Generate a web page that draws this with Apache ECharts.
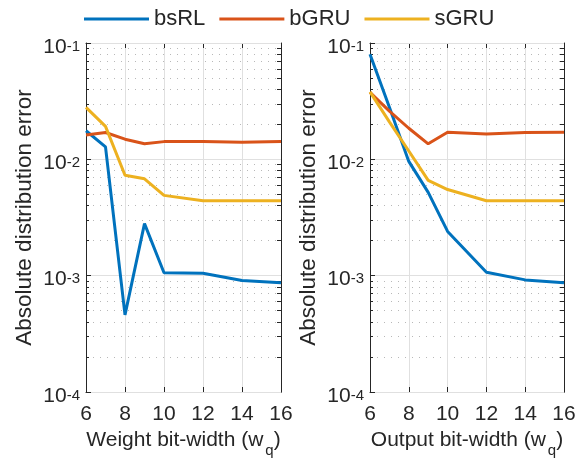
<!DOCTYPE html>
<html>
<head>
<meta charset="utf-8">
<script src="https://cdn.jsdelivr.net/npm/echarts@6/dist/echarts.min.js"></script>
<style>html,body{margin:0;padding:0;background:#fff}#c{width:585px;height:465px}</style>
</head>
<body>
<div id="c"></div>
<script>
const xBits = [6, 7, 8, 9, 10, 12, 14, 16];
const weight_bsRL = [0.0176, 0.0128, 0.00046, 0.0028, 0.00106, 0.00105, 0.00091, 0.00087];
const weight_bGRU = [0.0162, 0.0170, 0.0149, 0.0136, 0.0142, 0.0142, 0.0140, 0.0142];
const weight_sGRU = [0.028, 0.0192, 0.0073, 0.0068, 0.0049, 0.0044, 0.0044, 0.0044];
const output_bsRL = [0.080, 0.028, 0.0096, 0.0052, 0.0024, 0.00107, 0.00092, 0.00087];
const output_bGRU = [0.0376, 0.026, 0.0185, 0.0136, 0.0171, 0.0165, 0.0170, 0.0171];
const output_sGRU = [0.038, 0.021, 0.0118, 0.0066, 0.0055, 0.0044, 0.0044, 0.0044];
const seriesNames = ['bsRL', 'bGRU', 'sGRU'];
const xTicks = [6, 8, 10, 12, 14, 16];
const yMajor = [1e-4, 1e-3, 1e-2, 1e-1];
const yMinor = [];
for (let e = -4; e < -1; e++) for (let k = 2; k <= 9; k++) yMinor.push(k * Math.pow(10, e));
const xNames = ['Weight bit-width (w', 'Output bit-width (w'];
const yName = 'Absolute distribution error';

const colors = ['#0072BD', '#D95319', '#EDB120'];
const FONT = 'Liberation Sans';
const AX = '#262626';
const chart = echarts.init(document.getElementById('c'), null, {renderer: 'canvas'});

const grids = [
  {left: 86, top: 43, width: 195, height: 349},
  {left: 370, top: 43, width: 194, height: 349}
];

const minorExp = yMinor.map(v => Math.log10(v));
const allExp = yMajor.map(v => Math.log10(v)).concat(minorExp);

const xAxes = [], yAxes = [];
grids.forEach((g, gi) => {
  xAxes.push({
    type: 'value', gridIndex: gi, min: 6, max: 16, interval: 2, position: 'bottom',
    name: '{n|' + xNames[gi] + '}{q|q}{n|)}', nameLocation: 'middle', nameGap: 36,
    nameTextStyle: {rich: {
      n: {fontFamily: FONT, fontSize: 21, color: AX, lineHeight: 30, verticalAlign: 'top'},
      q: {fontFamily: FONT, fontSize: 15, color: AX, lineHeight: 15, verticalAlign: 'top', padding: [13, 0, 0, 2]}
    }},
    axisLine: {show: true, lineStyle: {color: AX, width: 1}},
    axisTick: {show: true, inside: true, length: 5, lineStyle: {color: AX}},
    axisLabel: {fontFamily: FONT, fontSize: 21, color: AX, margin: 12},
    splitLine: {show: true, lineStyle: {color: '#e0e0e0', width: 1}}
  });
  xAxes.push({
    type: 'value', gridIndex: gi, min: 6, max: 16, interval: 2, position: 'top',
    axisLine: {show: true, lineStyle: {color: AX, width: 1}},
    axisTick: {show: true, inside: true, length: 5, lineStyle: {color: AX}},
    axisLabel: {show: false}, splitLine: {show: false}
  });
  yAxes.push({
    type: 'log', gridIndex: gi, min: 1e-4, max: 1e-1, logBase: 10, position: 'left',
    name: yName, nameLocation: 'middle', nameGap: 50,
    nameTextStyle: {fontFamily: FONT, fontSize: 22.5, color: AX},
    axisLine: {show: true, lineStyle: {color: AX, width: 1}},
    axisTick: {show: true, inside: true, length: 5, lineStyle: {color: AX}},
    axisLabel: {
      margin: 6,
      formatter: v => '{b|10}{s|' + Math.round(Math.log10(v)) + '}',
      rich: {
        b: {fontFamily: FONT, fontSize: 21, color: AX, lineHeight: 24, padding: [8, 0, 0, 0]},
        s: {fontFamily: FONT, fontSize: 15, color: AX, lineHeight: 15, verticalAlign: 'top', padding: [8, 0, 0, 0]}
      }
    },
    splitLine: {show: true, lineStyle: {color: '#e0e0e0', width: 1}},
    z: 3
  });
  yAxes.push({
    type: 'value', gridIndex: gi, min: -4, max: -1, position: 'right',
    axisLine: {show: true, lineStyle: {color: AX, width: 1}},
    axisTick: {show: true, inside: true, length: 4, customValues: allExp, lineStyle: {color: AX}},
    axisLabel: {show: false}, splitLine: {show: false}
  });
  yAxes.push({
    type: 'value', gridIndex: gi, min: -4, max: -1, position: 'left',
    axisLine: {show: false},
    axisTick: {show: true, inside: true, length: 3, customValues: minorExp, lineStyle: {color: AX}},
    axisLabel: {show: false},
    splitLine: {show: true, lineStyle: {type: [1, 6], color: '#b8b8b8', width: 1}}
  });
});

const data = [[weight_bsRL, weight_bGRU, weight_sGRU], [output_bsRL, output_bGRU, output_sGRU]];
const series = [];
data.forEach((set, gi) => {
  set.forEach((vals, si) => {
    series.push({
      name: seriesNames[si], type: 'line', xAxisIndex: gi * 2, yAxisIndex: gi * 3,
      data: xBits.map((x, i) => [x, vals[i]]),
      symbol: 'none', color: colors[si],
      lineStyle: {width: 3, color: colors[si]}, z: 3
    });
  });
});

chart.setOption({
  animation: false,
  backgroundColor: '#fff',
  legend: {
    top: 3, left: 79, itemWidth: 65, itemHeight: 3, itemGap: 14,
    icon: 'rect',
    data: seriesNames,
    textStyle: {fontFamily: FONT, fontSize: 22, color: AX}
  },
  grid: grids.map(g => Object.assign({containLabel: false}, g)),
  xAxis: xAxes,
  yAxis: yAxes,
  series: series
});
</script>
</body>
</html>
